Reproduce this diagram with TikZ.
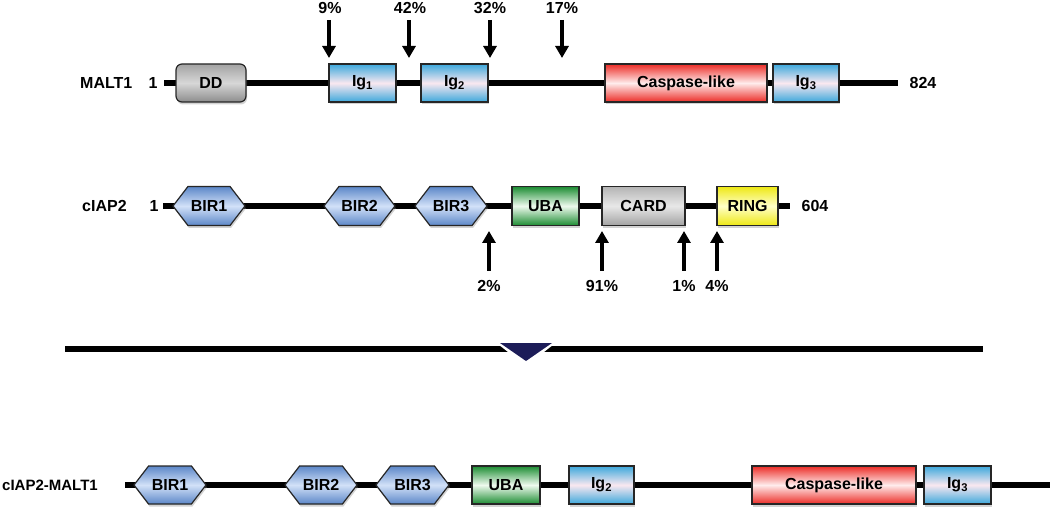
\documentclass[tikz,border=0pt]{standalone}
\usepackage{fontspec}
\setmainfont{Liberation Sans}
\usetikzlibrary{arrows.meta,shapes.symbols,shadows,backgrounds}
\definecolor{igb}{RGB}{60,168,220}
\definecolor{igm}{RGB}{250,232,240}
\definecolor{casr}{RGB}{236,44,38}
\definecolor{casm}{RGB}{255,236,236}
\definecolor{birb}{RGB}{92,135,200}
\definecolor{birm}{RGB}{210,225,248}
\definecolor{ubag}{RGB}{28,140,50}
\definecolor{ubam}{RGB}{238,250,238}
\definecolor{ringy}{RGB}{238,232,20}
\definecolor{ringm}{RGB}{255,255,200}
\definecolor{ddg}{RGB}{140,140,140}
\definecolor{ddm}{RGB}{215,215,215}
\definecolor{cardg}{RGB}{180,180,180}
\definecolor{cardm}{RGB}{232,232,232}
\definecolor{navy}{RGB}{28,28,88}
\begin{document}
\begin{tikzpicture}[x=1pt,y=-1pt,
  txt/.style={font=\fontsize{16}{18}\selectfont\bfseries, inner sep=0pt},
  bb/.style={line width=5.5pt},
  dom/.style={txt, draw=black!85, line width=1.2pt, minimum height=38pt,
    drop shadow={shadow xshift=1pt,shadow yshift=-2.5pt,opacity=0.35}},
  ig/.style={dom, top color=igb, bottom color=igb, middle color=igm},
  cas/.style={dom, top color=casr, bottom color=casr, middle color=casm},
  bir/.style={dom, shape=signal, signal to=west and east, signal pointer angle=105,
    top color=birb, bottom color=birb, middle color=birm},
  uba/.style={dom, top color=ubag, bottom color=ubag, middle color=ubam},
  ring/.style={dom, top color=ringy, bottom color=ringy, middle color=ringm},
  card/.style={dom, top color=cardg, bottom color=cardg!90!black, middle color=cardm},
  ddbox/.style={dom, rounded corners=6pt, top color=ddg!80, bottom color=ddg, middle color=ddm},
  arr/.style={line width=4pt, -{Triangle[width=13pt,length=12pt]}}
]
\useasboundingbox (0,0) rectangle (1050,513);

% ---------------- MALT1 ----------------
\node[txt, anchor=west] (lMALT) at (80,83) {MALT1};
\node[txt] (lM1) at (153,83) {1};
\node[txt] (lM824) at (923,83) {824};
\coordinate (m0) at (164,83);
\coordinate (mE) at (898,83);
\node[ddbox, minimum width=70pt] (mDD) at (211,83) {DD};
\node[ig, minimum width=67pt] (mIg1) at (362.5,83) {Ig\textsubscript{1}};
\node[ig, minimum width=67pt] (mIg2) at (454.5,83) {Ig\textsubscript{2}};
\node[cas, minimum width=162pt] (mCas) at (686,83) {Caspase-like};
\node[ig, minimum width=66pt] (mIg3) at (806,83) {Ig\textsubscript{3}};
\begin{scope}[on background layer]
\draw[bb] (m0) -- (mDD.center) -- (mIg1.center) -- (mIg2.center) -- (mCas.center) -- (mIg3.center) -- (mE);
\end{scope}

\node[txt] (p9) at (330,8) {9\%};
\node[txt] (p42) at (410,8) {42\%};
\node[txt] (p32) at (490,8) {32\%};
\node[txt] (p17) at (562,8) {17\%};
\coordinate (s9) at (329,20);  \coordinate (t9) at (329,58);
\coordinate (s42) at (409,20); \coordinate (t42) at (409,58);
\coordinate (s32) at (490,20); \coordinate (t32) at (490,58);
\coordinate (s17) at (562,20); \coordinate (t17) at (562,58);
\draw[arr] (s9) -- (t9);
\draw[arr] (s42) -- (t42);
\draw[arr] (s32) -- (t32);
\draw[arr] (s17) -- (t17);

% ---------------- cIAP2 ----------------
\node[txt, anchor=west] (lC) at (82,206) {cIAP2};
\node[txt] (lC1) at (154,206) {1};
\node[txt] (lC604) at (815,206) {604};
\coordinate (c0) at (163,206);
\coordinate (cE) at (790,206);
\node[bir, minimum width=72pt, minimum height=39pt] (cB1) at (209,206) {BIR1};
\node[bir, minimum width=71pt, minimum height=39pt] (cB2) at (359.5,206) {BIR2};
\node[bir, minimum width=72pt, minimum height=39pt] (cB3) at (451,206) {BIR3};
\node[uba, minimum width=67pt, minimum height=39pt] (cUBA) at (545.5,206) {UBA};
\node[card, minimum width=83pt, minimum height=39pt] (cCARD) at (643.5,206) {CARD};
\node[ring, minimum width=61pt, minimum height=39pt] (cRING) at (747.5,206) {RING};
\begin{scope}[on background layer]
\draw[bb] (c0) -- (cB1.center) -- (cB2.center) -- (cB3.center) -- (cUBA.center) -- (cCARD.center) -- (cRING.center) -- (cE);
\end{scope}

\node[txt] (p2) at (489,286) {2\%};
\node[txt] (p91) at (602,286) {91\%};
\node[txt] (p1) at (684,286) {1\%};
\node[txt] (p4) at (717,286) {4\%};
\coordinate (u2) at (489,271);  \coordinate (v2) at (489,231);
\coordinate (u91) at (602,271); \coordinate (v91) at (602,231);
\coordinate (u1) at (684,271);  \coordinate (v1) at (684,231);
\coordinate (u4) at (717,271);  \coordinate (v4) at (717,231);
\draw[arr] (u2) -- (v2);
\draw[arr] (u91) -- (v91);
\draw[arr] (u1) -- (v1);
\draw[arr] (u4) -- (v4);

% ---------------- separator ----------------
\coordinate (sepL) at (65,349);
\coordinate (sepR) at (983,349);
\draw[line width=5.5pt] (sepL) -- (sepR);
\fill[white] (492,339.5) -- (560,339.5) -- (526,366) -- cycle;
\fill[navy] (500,343) -- (552,343) -- (526,361) -- cycle;

% ---------------- cIAP2-MALT1 ----------------
\node[txt, font=\fontsize{15}{18}\selectfont\bfseries, anchor=west] (lF) at (2,485) {cIAP2-MALT1};
\coordinate (f0) at (125,485);
\coordinate (fE) at (1050,485);
\node[bir, minimum width=72pt] (fB1) at (170,485) {BIR1};
\node[bir, minimum width=72pt] (fB2) at (321,485) {BIR2};
\node[bir, minimum width=73pt] (fB3) at (412.5,485) {BIR3};
\node[uba, minimum width=68pt] (fUBA) at (506,485) {UBA};
\node[ig, minimum width=65pt] (fIg2) at (601.5,485) {Ig\textsubscript{2}};
\node[cas, minimum width=164pt] (fCas) at (834,485) {Caspase-like};
\node[ig, minimum width=67pt] (fIg3) at (957.5,485) {Ig\textsubscript{3}};
\begin{scope}[on background layer]
\draw[bb] (f0) -- (fB1.center) -- (fB2.center) -- (fB3.center) -- (fUBA.center) -- (fIg2.center) -- (fCas.center) -- (fIg3.center) -- (fE);
\end{scope}
\end{tikzpicture}
\end{document}
